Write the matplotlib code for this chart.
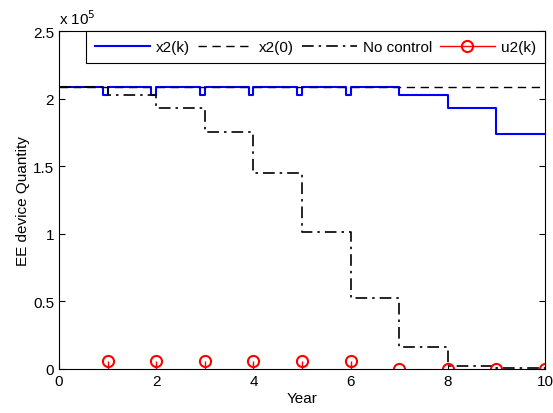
import matplotlib.pyplot as plt
import numpy as np
from matplotlib.lines import Line2D

plt.rcParams['font.family'] = ['Liberation Sans', 'DejaVu Sans']
plt.rcParams['font.size'] = 11

years = np.arange(0, 11)
x2_init = 2.085e5

# x2(k): short dips just before each control year, then declining stairs
x2_t = [0, 0.9, 0.9, 1.0, 1.0, 1.9, 1.9, 2.0, 2.0, 2.9, 2.9, 3.0, 3.0, 3.9, 3.9, 4.0, 4.0,
        4.9, 4.9, 5.0, 5.0, 5.9, 5.9, 6.0, 6.0, 7.0, 7.0, 8.0, 8.0, 9.0, 9.0, 10.0]
x2_v = [2.085e5, 2.085e5, 2.03e5, 2.03e5, 2.085e5, 2.085e5, 2.03e5, 2.03e5, 2.085e5,
        2.085e5, 2.03e5, 2.03e5, 2.085e5, 2.085e5, 2.03e5, 2.03e5, 2.085e5,
        2.085e5, 2.03e5, 2.03e5, 2.085e5, 2.085e5, 2.03e5, 2.03e5, 2.085e5,
        2.085e5, 2.03e5, 2.03e5, 1.93e5, 1.93e5, 1.74e5, 1.74e5]

no_control = [2.085e5, 2.03e5, 1.93e5, 1.75e5, 1.45e5, 1.015e5, 0.525e5, 0.165e5, 0.025e5, 0.005e5, 0.005e5]

u2_years = np.arange(1, 11)
u2 = [6000, 6000, 6000, 6000, 6000, 6000, 0, 0, 0, 0]

dashdot = (0, (7, 3, 1.5, 3))
dashed = (0, (6, 4))

fig = plt.figure(figsize=(5.53, 4.14), dpi=100)
ax = fig.add_axes([0.1067, 0.1063, 0.8788, 0.8164])

ax.plot(x2_t, x2_v, color='blue', lw=1.5)
ax.plot([0, 10], [x2_init, x2_init], color='black', ls=dashed, lw=1)
ax.step(years, no_control, where='post', color='black', ls=dashdot, lw=1.2)
ax.vlines(u2_years, 0, u2, color='red', lw=1)
ax.plot(u2_years, u2, 'o', mfc='none', mec='red', ms=8, mew=1.5)

ax.set_xlim(0, 10)
ax.set_ylim(0, 2.5e5)
ax.set_xticks(np.arange(0, 11, 2))
ax.set_yticks(np.arange(0, 2.51e5, 0.5e5))
ax.set_yticklabels(['0', '0.5', '1', '1.5', '2', '2.5'])
ax.text(0, 1.012, r'x 10$^5$', transform=ax.transAxes, ha='left', va='bottom')
ax.tick_params(direction='in', top=True, right=True, length=4)
ax.set_xlabel('Year', labelpad=2)
ax.set_ylabel('EE device Quantity', labelpad=2)

handles = [Line2D([], [], color='blue', lw=1.5),
           Line2D([], [], color='black', ls=dashed, lw=1),
           Line2D([], [], color='black', ls=dashdot, lw=1.2),
           Line2D([], [], color='red', lw=1, marker='o', mfc='none', mec='red', ms=8, mew=1.5)]
leg = ax.legend(handles, ['x2(k)', 'x2(0)', 'No control', 'u2(k)'], loc='upper right', ncol=4,
                borderaxespad=0, fancybox=False, edgecolor='black', framealpha=1,
                handlelength=3.6, columnspacing=0.5, handletextpad=0.4, borderpad=0.6)
leg.get_frame().set_linewidth(0.8)

fig.savefig('out.png', dpi=100)
